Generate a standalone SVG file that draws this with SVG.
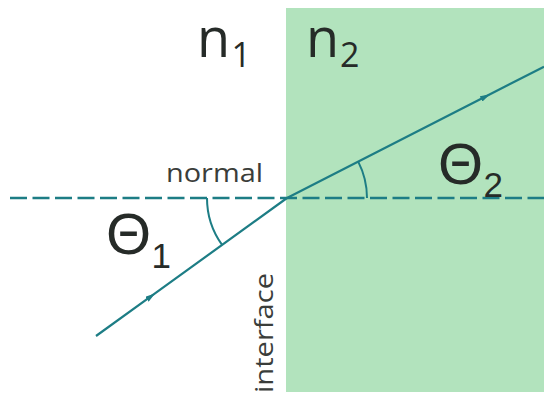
<svg xmlns="http://www.w3.org/2000/svg" width="544" height="394" viewBox="0 0 544 394">
<style>
.ray{fill:none;stroke:#1d7d85;stroke-width:2.2}
.dash{fill:none;stroke:#1d7d85;stroke-width:2.4;stroke-dasharray:17 5.5}
.arc{fill:none;stroke:#1d7d85;stroke-width:2}
.big{font-family:"Open Sans","Noto Sans",sans-serif;fill:#262b28}
.sym{font-family:"Liberation Sans",Arial,sans-serif;fill:#262b28}
.lbl{font-family:"Open Sans","Noto Sans",sans-serif;font-size:25px;fill:#3a3d3a}
</style>
<defs>
<marker id="arr" viewBox="0 0 10 6" refX="10" refY="3" markerWidth="10" markerHeight="6" markerUnits="userSpaceOnUse" orient="auto">
<path d="M0,0 L10,3 L0,6 z" fill="#1d7d85"/>
</marker>
</defs>
<rect width="544" height="394" fill="#ffffff"/>
<g id="medium2">
<rect x="286" y="8" width="258" height="384" fill="#b2e3bd"/>
</g>
<g id="connectors">
<line class="dash" x1="10" y1="198" x2="544" y2="198"/>
<polyline class="ray" points="96,336 155,293.4 287,198" marker-mid="url(#arr)"/>
<polyline class="ray" points="287,198 490,94.3 544,66.7" marker-mid="url(#arr)"/>
<path class="arc" d="M207,198 A80,80 0 0 0 222.1,244.9"/>
<path class="arc" d="M367,198 A80,80 0 0 0 358.2,161.6"/>
</g>
<g id="labels">
<text class="big" x="197" y="57" font-size="54">n</text>
<text class="big" x="231.5" y="67" font-size="34">1</text>
<text class="big" x="306" y="57" font-size="54">n</text>
<text class="big" x="340" y="67" font-size="34">2</text>
<text class="sym" x="106" y="254" font-size="58">Θ</text>
<text class="sym" x="151.5" y="268" font-size="35">1</text>
<text class="sym" x="438" y="184" font-size="58">Θ</text>
<text class="sym" x="483.5" y="197" font-size="35">2</text>
<text class="lbl" x="166" y="182" textLength="97" lengthAdjust="spacingAndGlyphs">normal</text>
<text class="lbl" transform="translate(273,393) rotate(-90)" x="0" y="0" textLength="120" lengthAdjust="spacingAndGlyphs">interface</text>
</g>
</svg>
